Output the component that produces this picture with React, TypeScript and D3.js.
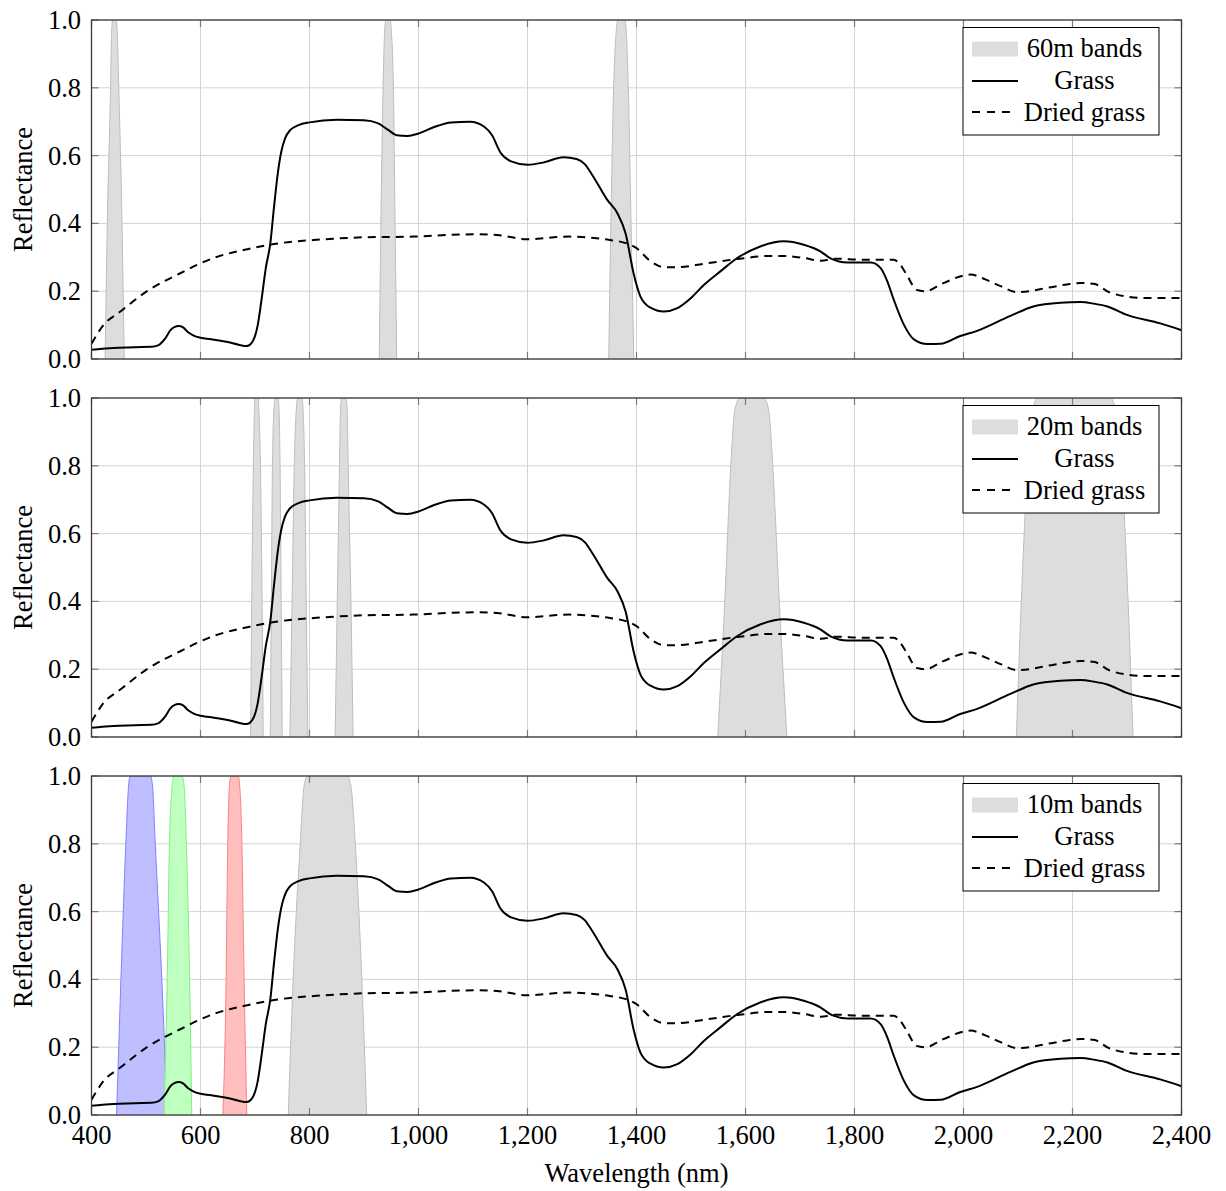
import React from "react";
import * as d3 from "d3";

// ---------- data ----------
const X_TICKS = [400, 600, 800, 1000, 1200, 1400, 1600, 1800, 2000, 2200, 2400];
const Y_TICKS = [0, 0.2, 0.4, 0.6, 0.8, 1.0];

const GRASS_NM = [400, 420, 450, 480, 510, 522, 535, 545, 552, 560, 568, 578, 592, 620, 650, 670, 685, 695, 705, 712, 720, 728, 735, 742, 748, 755, 765, 780, 800, 850, 900, 925, 945, 960, 980, 1000, 1030, 1060, 1095, 1120, 1135, 1150, 1170, 1200, 1230, 1266, 1290, 1305, 1320, 1346, 1365, 1380, 1395, 1407, 1425, 1450, 1475, 1500, 1524, 1555, 1585, 1627, 1670, 1707, 1738, 1756, 1787, 1830, 1848, 1860, 1872, 1891, 1909, 1934, 1958, 1994, 2025, 2086, 2128, 2178, 2215, 2240, 2264, 2300, 2361, 2400];
const GRASS_R = [0.027, 0.03, 0.033, 0.035, 0.036, 0.04, 0.06, 0.085, 0.094, 0.097, 0.093, 0.078, 0.066, 0.058, 0.05, 0.042, 0.038, 0.05, 0.1, 0.175, 0.27, 0.34, 0.45, 0.55, 0.61, 0.65, 0.676, 0.69, 0.698, 0.706, 0.704, 0.696, 0.675, 0.66, 0.658, 0.665, 0.685, 0.698, 0.7, 0.686, 0.66, 0.61, 0.583, 0.573, 0.58, 0.595, 0.59, 0.575, 0.54, 0.47, 0.43, 0.37, 0.25, 0.185, 0.152, 0.14, 0.15, 0.18, 0.219, 0.26, 0.298, 0.332, 0.347, 0.337, 0.317, 0.297, 0.285, 0.285, 0.268, 0.23, 0.175, 0.1, 0.058, 0.044, 0.045, 0.068, 0.083, 0.127, 0.155, 0.166, 0.168, 0.163, 0.155, 0.13, 0.105, 0.085];

const DRIED_NM = [400, 422, 453, 502, 563, 624, 686, 747, 808, 900, 991, 1053, 1108, 1144, 1199, 1240, 1278, 1327, 1351, 1382, 1400, 1426, 1450, 1475, 1524, 1585, 1646, 1670, 1707, 1738, 1768, 1811, 1850, 1872, 1884, 1896, 1914, 1930, 1963, 2013, 2040, 2068, 2099, 2154, 2190, 2215, 2239, 2270, 2331, 2393, 2400];
const DRIED_R = [0.045, 0.1, 0.14, 0.2, 0.253, 0.298, 0.324, 0.342, 0.351, 0.359, 0.361, 0.366, 0.368, 0.366, 0.353, 0.358, 0.361, 0.356, 0.351, 0.341, 0.327, 0.288, 0.271, 0.271, 0.281, 0.295, 0.304, 0.304, 0.298, 0.29, 0.296, 0.293, 0.293, 0.293, 0.278, 0.248, 0.204, 0.2, 0.224, 0.249, 0.235, 0.215, 0.197, 0.21, 0.22, 0.224, 0.222, 0.195, 0.18, 0.18, 0.18];

// Relative spectral response levels, and band edge wavelengths at each level
const RESPONSE_LEVELS = [0, 0.4, 0.8, 0.97, 1];

const BANDS_60M = [
  { name: "B1", kind: "gray", lo: [425, 429, 435, 437, 439], hi: [460, 456, 450, 447, 445] },
  { name: "B9", kind: "gray", lo: [928, 931, 935, 938, 940], hi: [960, 957, 954, 950, 948] },
  { name: "B10", kind: "gray", lo: [1349, 1353, 1358, 1363, 1366], hi: [1395, 1390, 1385, 1381, 1379] },
];
const BANDS_20M = [
  { name: "B5", kind: "gray", lo: [692, 694, 697, 699, 700], hi: [715, 713, 710, 707, 706] },
  { name: "B6", kind: "gray", lo: [728, 730, 732, 735, 737], hi: [750, 748, 746, 744, 742] },
  { name: "B7", kind: "gray", lo: [764, 768, 772, 776, 778], hi: [797, 794, 791, 788, 786] },
  { name: "B8a", kind: "gray", lo: [847, 851, 855, 857, 859], hi: [880, 876, 871, 869, 867] },
  { name: "B11", kind: "gray", lo: [1549, 1562, 1573, 1581, 1590], hi: [1676, 1662, 1650, 1642, 1633] },
  { name: "B12", kind: "gray", lo: [2097, 2106, 2118, 2128, 2136], hi: [2311, 2302, 2290, 2278, 2270] },
];
const BANDS_10M = [
  { name: "B2", kind: "blue", lo: [446, 454, 463, 468, 471], hi: [539, 529, 517, 512, 508] },
  { name: "B3", kind: "green", lo: [533, 539, 543, 548, 551], hi: [584, 580, 574, 570, 566] },
  { name: "B4", kind: "red", lo: [641, 647, 650, 653, 656], hi: [685, 680, 676, 672, 669] },
  { name: "B8", kind: "gray", lo: [761, 770, 783, 790, 796], hi: [905, 896, 884, 876, 869] },
];

const PANEL_LEGENDS = ["60m bands", "20m bands", "10m bands"];
const PANEL_BANDS = [BANDS_60M, BANDS_20M, BANDS_10M];
const SERIES_LABELS = ["Grass", "Dried grass"];
const X_LABEL = "Wavelength (nm)";
const Y_LABEL = "Reflectance";

// ---------- style ----------
const W = 1226, H = 1191;
const LEFT = 91.5, RIGHT = 1181.5;
const PANEL_TOPS = [20, 398, 776];
const PANEL_H = 339;
const FONT = "'Liberation Serif', 'Times New Roman', serif";
const FS = 26.5;
const BAND_STYLE: Record<string, { fill: string; stroke: string }> = {
  gray: { fill: "#dddddd", stroke: "#bdbdbd" },
  blue: { fill: "#bfbfff", stroke: "#7f7fff" },
  green: { fill: "#bfffbf", stroke: "#7fef7f" },
  red: { fill: "#ffbfbf", stroke: "#ff7f7f" },
};

const fmtX = d3.format(",");
const fmtY = d3.format(".1f");

function Panel({ idx }: { idx: number }) {
  const top = PANEL_TOPS[idx];
  const x = d3.scaleLinear().domain([400, 2400]).range([LEFT, RIGHT]);
  const y = d3.scaleLinear().domain([0, 1]).range([top + PANEL_H, top]);
  const clipId = `clip${idx}`;

  const area = d3
    .area<[number, number]>()
    .x((d) => x(d[0]))
    .y0(y(0))
    .y1((d) => y(d[1]))
    .curve(d3.curveMonotoneX);
  const line = d3
    .line<[number, number]>()
    .x((d) => x(d[0]))
    .y((d) => y(d[1]))
    .curve(d3.curveMonotoneX);

  const grass: [number, number][] = GRASS_NM.map((n, i) => [n, GRASS_R[i]]);
  const dried: [number, number][] = DRIED_NM.map((n, i) => [n, DRIED_R[i]]);

  const bands = PANEL_BANDS[idx];
  const tickLen = 7;
  const lx0 = 963, lx1 = 1159, ltop = top + 7.5, lbot = top + 115;
  const sx0 = 972, sx1 = 1018, tx = 1084.5;

  return (
    <g>
      <defs>
        <clipPath id={clipId}>
          <rect x={LEFT} y={top} width={RIGHT - LEFT} height={PANEL_H} />
        </clipPath>
      </defs>
      {/* grid */}
      <g stroke="#d4d4d4" strokeWidth={1}>
        {X_TICKS.map((t) => (
          <line key={"gx" + t} x1={x(t)} x2={x(t)} y1={top} y2={top + PANEL_H} />
        ))}
        {Y_TICKS.map((t) => (
          <line key={"gy" + t} x1={LEFT} x2={RIGHT} y1={y(t)} y2={y(t)} />
        ))}
      </g>
      {/* bands */}
      <g clipPath={`url(#${clipId})`}>
        {bands.map((b) => {
          const pts: [number, number][] = [
            ...b.lo.map((n, i) => [n, RESPONSE_LEVELS[i]] as [number, number]),
            ...b.hi
              .map((n, i) => [n, RESPONSE_LEVELS[i]] as [number, number])
              .reverse(),
          ];
          const st = BAND_STYLE[b.kind];
          return (
            <g key={b.name}>
              <path d={area(pts) || ""} fill={st.fill} stroke="none" />
              <path d={line(pts) || ""} fill="none" stroke={st.stroke} strokeWidth={1} />
            </g>
          );
        })}
      </g>
      {/* curves */}
      <g clipPath={`url(#${clipId})`} fill="none" stroke="#000" strokeWidth={2}>
        <path d={line(grass) || ""} />
        <path d={line(dried) || ""} strokeDasharray="8,6" />
      </g>
      {/* frame and ticks */}
      <g stroke="#7a7a7a" strokeWidth={1.2}>
        {X_TICKS.map((t) => (
          <g key={"tx" + t}>
            <line x1={x(t)} x2={x(t)} y1={top + PANEL_H} y2={top + PANEL_H - tickLen} />
            <line x1={x(t)} x2={x(t)} y1={top} y2={top + tickLen} />
          </g>
        ))}
        {Y_TICKS.map((t) => (
          <g key={"ty" + t}>
            <line x1={LEFT} x2={LEFT + tickLen} y1={y(t)} y2={y(t)} />
            <line x1={RIGHT} x2={RIGHT - tickLen} y1={y(t)} y2={y(t)} />
          </g>
        ))}
      </g>
      <rect x={LEFT} y={top} width={RIGHT - LEFT} height={PANEL_H} fill="none" stroke="#3a3a3a" strokeWidth={1.3} />
      {/* y tick labels */}
      <g fontFamily={FONT} fontSize={FS} fill="#000" textAnchor="end">
        {Y_TICKS.map((t) => (
          <text key={"yl" + t} x={81} y={y(t)} dy="0.34em">
            {fmtY(t)}
          </text>
        ))}
      </g>
      {/* y label */}
      <text
        transform={`translate(32,${top + PANEL_H / 2}) rotate(-90)`}
        textAnchor="middle"
        fontFamily={FONT}
        fontSize={FS}
      >
        {Y_LABEL}
      </text>
      {/* x tick labels on last panel */}
      {idx === 2 && (
        <g fontFamily={FONT} fontSize={FS} textAnchor="middle">
          {X_TICKS.map((t) => (
            <text key={"xl" + t} x={x(t)} y={top + PANEL_H + 29}>
              {fmtX(t)}
            </text>
          ))}
          <text x={(LEFT + RIGHT) / 2} y={top + PANEL_H + 67}>
            {X_LABEL}
          </text>
        </g>
      )}
      {/* legend */}
      <g>
        <rect x={lx0} y={ltop} width={lx1 - lx0} height={lbot - ltop} fill="#fff" stroke="#000" strokeWidth={1} />
        <rect x={sx0} y={top + 21.5} width={sx1 - sx0} height={15} fill={BAND_STYLE.gray.fill} />
        <line x1={sx0} x2={sx1} y1={top + 61} y2={top + 61} stroke="#000" strokeWidth={2} />
        <line x1={sx0} x2={sx0 + 38} y1={top + 92} y2={top + 92} stroke="#000" strokeWidth={2} strokeDasharray="8,7" />
        <g fontFamily={FONT} fontSize={FS} textAnchor="middle">
          <text x={tx} y={top + 37}>{PANEL_LEGENDS[idx]}</text>
          <text x={tx} y={top + 69}>{SERIES_LABELS[0]}</text>
          <text x={tx} y={top + 101}>{SERIES_LABELS[1]}</text>
        </g>
      </g>
    </g>
  );
}

export default function App() {
  return (
    <svg
      width={W}
      height={H}
      viewBox={`0 0 ${W} ${H}`}
      style={{ position: "absolute", left: 0, top: 0, background: "#fff" }}
    >
      <rect x={0} y={0} width={W} height={H} fill="#fff" />
      {[0, 1, 2].map((i) => (
        <Panel key={i} idx={i} />
      ))}
    </svg>
  );
}
